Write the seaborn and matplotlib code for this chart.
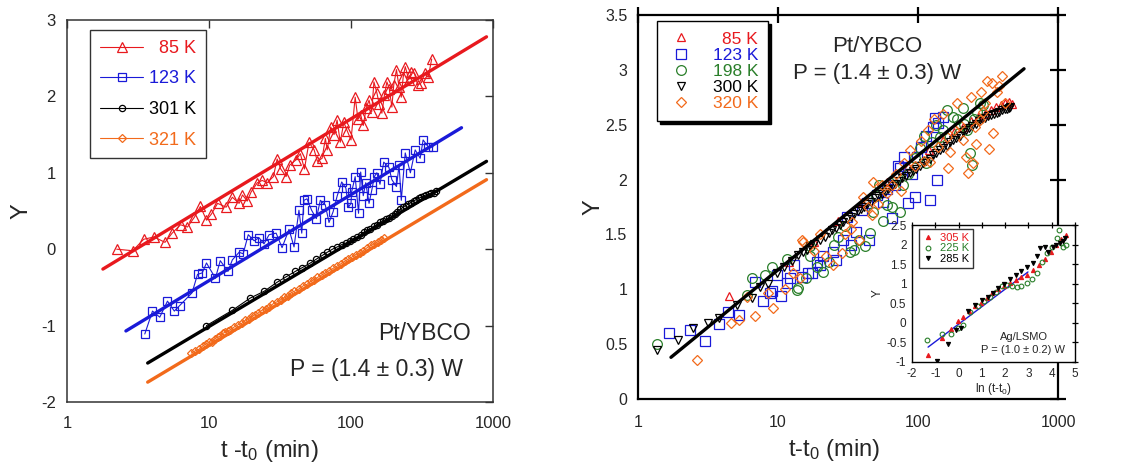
import matplotlib
matplotlib.use("Agg")
import matplotlib.pyplot as plt
import seaborn as sns

# ---------------- left panel: Pt/YBCO, Y vs t - t0 ----------------
red_t = [2.24, 2.9, 3.47, 4.1, 4.9, 5.5, 6.3, 7.05, 7.9, 8.7, 9.6, 10.4, 11.5, 13.2, 14.6,
         16.3, 17.2, 18.6, 19.8, 21.9, 23.7, 25.7, 28.4, 30.2, 32, 34.9, 37, 41, 44, 47,
         50.6, 55, 58, 62.6, 66, 68, 72, 76, 79.8, 84, 89, 94, 100, 107, 112, 117, 122,
         128, 134, 140, 145, 152, 158, 165, 172, 179, 186, 194, 200, 209, 218, 226, 233,
         241, 255, 266, 280, 295, 313, 330, 350, 370]
red_y = [0.00, -0.02, 0.13, 0.16, 0.09, 0.21, 0.32, 0.29, 0.42, 0.56, 0.38, 0.46, 0.60, 0.55, 0.68,
         0.60, 0.71, 0.63, 0.75, 0.87, 0.90, 0.87, 0.95, 1.18, 1.05, 0.95, 1.10, 1.17, 1.25, 1.05,
         1.40, 1.30, 1.15, 1.19, 1.45, 1.30, 1.60, 1.50, 1.69, 1.40, 1.66, 1.55, 1.43, 1.99, 1.70, 1.76, 1.62,
         1.85, 1.95, 1.80, 2.19, 2.05, 1.90, 1.78, 2.02, 2.19, 2.10, 1.86, 2.15, 2.35, 2.12, 1.99, 2.25,
         2.39, 2.22, 2.32, 2.30, 2.15, 2.18, 2.30, 2.25, 2.49]

blue_t = [3.53, 4.0, 4.5, 5.1, 5.7, 6.2, 7.6, 8.3, 8.96, 9.6, 11.1, 12.0, 13.6, 14.6, 16.3,
          17.4, 18.9, 20.8, 22.5, 24.4, 26.5, 29.7, 32.7, 36.6, 39.7, 43, 45, 46.6, 49, 52.8,
          57, 60.8, 65.9, 70, 74.8, 80, 86, 92, 96, 100, 101, 107, 113, 117, 122, 127, 134,
          140, 146, 152, 160, 170, 185, 194, 209, 218, 226, 241, 262, 283, 307, 322, 350, 378]
blue_y = [-1.11, -0.81, -0.89, -0.68, -0.81, -0.74, -0.57, -0.33, -0.31, -0.18, -0.38, -0.15, -0.29, -0.14, -0.04,
          -0.06, 0.19, 0.11, 0.15, 0.07, 0.19, 0.21, 0.02, 0.26, 0.03, 0.51, 0.21, 0.64, 0.66, 0.51,
          0.40, 0.64, 0.58, 0.35, 0.49, 0.70, 0.88, 0.80, 0.55, 0.60, 0.75, 0.95, 0.47, 1.01, 0.70, 0.87, 0.60,
          0.77, 0.95, 1.00, 0.85, 1.14, 1.07, 0.91, 0.82, 1.10, 0.64, 1.26, 1.00, 1.30, 1.19, 1.43, 1.34, 1.34]

black_t = [9.6, 14.6, 19.5, 24.5, 30.3, 35, 40.6, 45.5, 51.8, 57, 63, 68, 74, 80, 86, 92, 98,
           104, 110, 117, 123, 130, 137, 145, 152, 160, 168, 176, 185, 194, 203, 212, 222, 232,
           242, 253, 264, 276, 288, 300, 313, 326, 340, 354, 368, 382, 395]
black_y = [-1.00, -0.80, -0.64, -0.55, -0.43, -0.36, -0.29, -0.24, -0.18, -0.13, -0.08, -0.04, 0.00, 0.03,
           0.06, 0.08, 0.11, 0.14, 0.16, 0.19, 0.22, 0.25, 0.27, 0.30, 0.32, 0.35, 0.37, 0.39, 0.41, 0.43,
           0.46, 0.49, 0.52, 0.55, 0.57, 0.59, 0.61, 0.63, 0.65, 0.67, 0.68, 0.70, 0.71, 0.72, 0.73, 0.74, 0.76]

orange_t = [7.5, 8.0, 8.5, 9.0, 9.5, 10, 10.5, 11, 11.5, 12, 12.5, 13, 13.5, 14, 15, 16, 17, 18, 19,
            20, 21, 22, 23.5, 25, 26.5, 28, 30, 32, 34, 36, 38, 40, 43, 46, 49, 52, 55, 58, 62, 66,
            70, 75, 80, 85, 90, 96, 102, 108, 115, 122, 130, 138, 146, 155, 163, 170]
orange_y = [-1.36, -1.33, -1.31, -1.27, -1.24, -1.22, -1.21, -1.17, -1.15, -1.14, -1.10, -1.09, -1.07, -1.06,
            -1.02, -0.99, -0.97, -0.93, -0.91, -0.88, -0.86, -0.84, -0.80, -0.78, -0.76, -0.72, -0.69, -0.66,
            -0.63, -0.61, -0.57, -0.55, -0.52, -0.48, -0.46, -0.42, -0.40, -0.37, -0.34, -0.31, -0.28, -0.25,
            -0.22, -0.19, -0.16, -0.13, -0.10, -0.07, -0.05, -0.02, 0.02, 0.05, 0.07, 0.10, 0.12, 0.15]

# straight fits (end points)
fit_left = {
    "85 K": ([1.79, 900], [-0.26, 2.78]),
    "123 K": ([2.6, 600], [-1.07, 1.59]),
    "301 K": ([3.7, 900], [-1.49, 1.15]),
    "321 K": ([3.7, 900], [-1.74, 0.91]),
}

# ---------------- right panel: collapsed data ----------------
r85_t = [4.5, 12, 18, 27, 40, 60, 85, 120, 150, 180, 210, 240, 270, 300, 330, 360, 390, 420, 450, 470]
r85_y = [0.94, 1.25, 1.43, 1.62, 1.80, 1.98, 2.12, 2.27, 2.36, 2.43, 2.48, 2.53, 2.57, 2.60, 2.63,
         2.66, 2.68, 2.70, 2.71, 2.69]

r123_t = [1.67, 2.35, 3.0, 3.8, 4.4, 5.3, 6.9, 7.8, 8.8, 9.1, 9.9, 10.5, 11.6, 12.2, 13.0, 14.8, 16.3,
          17.5, 19.0, 19.9, 21, 24.7, 26, 29, 31, 33, 36, 40, 43, 45, 50.7, 56, 60, 65, 68, 72, 74,
          80, 85, 90, 95, 98, 105, 115, 122, 127, 133, 137, 140, 150]
r123_y = [0.60, 0.63, 0.53, 0.68, 0.79, 0.77, 1.07, 0.89, 0.97, 0.98, 1.13, 0.94, 1.06, 1.10, 1.22, 1.11,
          1.15, 1.15, 1.25, 1.22, 1.30, 1.34, 1.27, 1.45, 1.66, 1.40, 1.52, 1.72, 1.79, 1.45, 1.86, 1.80,
          1.91, 1.65, 1.95, 2.12, 2.11, 2.21, 1.79, 2.05, 1.84, 2.21, 2.30, 2.40, 1.81, 2.48, 2.56, 2.00,
          2.52, 2.57]

r198_t = [1.37, 6.0, 6.5, 8.1, 9.0, 11.6, 13.6, 13.9, 15.8, 16.9, 17, 19, 21, 23, 25, 27, 30, 32.6,
          35, 38, 41.7, 45.5, 48, 50, 53, 56, 60, 65, 71, 74, 78, 85, 95, 103, 110, 115, 126, 135,
          143, 150, 161, 178, 190, 195, 210, 212, 225, 235, 242, 250, 265, 275, 290]
r198_y = [0.50, 0.95, 1.10, 1.13, 1.20, 1.28, 0.99, 1.01, 1.10, 1.39, 1.30, 1.20, 1.16, 1.25, 1.40, 1.48,
          1.58, 1.34, 1.36, 1.45, 1.39, 1.51, 1.70, 1.85, 1.95, 1.62, 1.77, 1.75, 2.02, 1.70, 1.95, 2.05,
          2.20, 2.29, 2.40, 2.15, 2.34, 2.50, 2.39, 2.45, 2.63, 2.57, 2.55, 2.42, 2.65, 2.51, 2.45, 2.24,
          2.13, 2.55, 2.62, 2.70, 2.68]

r300_t = [1.37, 1.93, 2.47, 3.16, 3.8, 5.1, 6.5, 7.4, 8.5, 9.8, 11, 12.5, 14, 15, 16, 17, 18, 20, 21.5,
          23, 24.5, 26, 27.5, 29, 31, 33, 35, 37, 39, 41, 43.5, 46, 49, 52, 55, 58, 61, 65, 69, 73, 77,
          82, 87, 92, 97, 103, 109, 115, 121, 128, 135, 143, 151, 160, 169, 178, 188, 198, 209, 220,
          232, 245, 258, 272, 286, 300, 315, 330, 347, 365, 382, 400, 415, 430, 445, 455]
r300_y = [0.45, 0.54, 0.65, 0.69, 0.74, 0.86, 0.92, 1.02, 1.05, 1.15, 1.20, 1.26, 1.31, 1.34, 1.36, 1.39,
          1.41, 1.45, 1.48, 1.51, 1.54, 1.56, 1.59, 1.61, 1.64, 1.66, 1.69, 1.71, 1.73, 1.75, 1.78, 1.80,
          1.83, 1.85, 1.87, 1.89, 1.91, 1.94, 1.96, 1.99, 2.01, 2.03, 2.06, 2.08, 2.10, 2.12, 2.15, 2.17,
          2.19, 2.22, 2.24, 2.27, 2.29, 2.31, 2.34, 2.36, 2.38, 2.40, 2.43, 2.45, 2.47, 2.49, 2.51, 2.53,
          2.55, 2.56, 2.58, 2.59, 2.60, 2.61, 2.62, 2.63, 2.64, 2.64, 2.65, 2.66]

r320_t = [2.64, 4.6, 5.3, 6.0, 6.8, 8.5, 9.2, 11.2, 12.8, 14.3, 14.8, 15.1, 18, 20, 22, 24.7, 28.6, 30,
          33, 34, 38, 40.6, 44, 47, 47.6, 52, 55, 60, 65, 70, 75, 80, 88, 95, 105, 110, 118, 122, 130,
          140, 150, 161, 164, 170, 180, 190, 200, 210, 222, 228, 240, 248, 255, 260, 277, 282, 290, 300,
          310, 320, 338, 343, 365, 380, 399, 420]
r320_y = [0.36, 0.69, 0.72, 0.93, 0.76, 0.97, 0.83, 1.00, 1.15, 1.10, 1.45, 1.43, 1.35, 1.50, 1.30, 1.22,
          1.33, 1.50, 1.55, 1.61, 1.45, 1.84, 1.75, 1.68, 1.98, 1.78, 1.95, 1.88, 1.95, 2.05, 1.90, 2.15,
          2.27, 2.12, 2.35, 2.17, 2.45, 2.16, 2.55, 2.30, 2.60, 2.39, 2.11, 2.25, 2.45, 2.70, 2.50, 2.36,
          2.21, 2.06, 2.75, 2.15, 2.48, 2.32, 2.54, 2.80, 2.62, 2.70, 2.90, 2.28, 2.88, 2.42, 2.80, 2.85,
          2.94, 2.70]

fit_right_t = [1.72, 572]
fit_right_y = [0.38, 3.01]

# ---------------- inset: Ag/LSMO, Y vs ln(t - t0) ----------------
i305_x = [-1.31, -0.71, -0.33, -0.03, 0.2, 0.45, 0.7, 0.95, 1.2, 1.45, 1.7, 1.95, 2.2, 2.45, 2.7,
          2.95, 3.2, 3.45, 3.7, 3.95, 4.2, 4.4, 4.6]
i305_y = [-0.82, -0.39, -0.16, 0.06, 0.15, 0.30, 0.42, 0.52, 0.64, 0.76, 0.86, 0.95, 1.02, 1.10, 1.16,
          1.22, 1.34, 1.47, 1.63, 1.80, 2.00, 2.15, 2.25]
i225_x = [-1.36, -0.71, -0.33, -0.03, 0.2, 0.49, 0.84, 1.1, 1.35, 1.6, 1.85, 2.07, 2.3, 2.5, 2.7,
          2.94, 3.15, 3.37, 3.6, 3.8, 4.0, 4.22, 4.33, 4.4, 4.5, 4.6]
i225_y = [-0.44, -0.28, -0.28, -0.13, -0.05, 0.28, 0.43, 0.55, 0.65, 0.80, 0.95, 0.97, 0.95, 0.92, 0.95,
          1.02, 1.12, 1.28, 1.55, 1.79, 1.95, 2.17, 2.38, 2.05, 1.95, 2.00]
i285_x = [-0.93, -0.46, -0.11, 0.1, 0.4, 0.7, 1.0, 1.25, 1.48, 1.7, 1.95, 2.2, 2.45, 2.7, 2.94, 3.2,
          3.35, 3.5, 3.7, 3.85, 4.05, 4.2, 4.35, 4.5, 4.57]
i285_y = [-0.98, -0.54, -0.19, -0.12, 0.30, 0.45, 0.58, 0.66, 0.77, 0.88, 1.00, 1.12, 1.22, 1.32, 1.43,
          1.52, 1.70, 1.92, 1.95, 1.81, 1.94, 1.98, 2.04, 2.10, 2.17]
fit_inset_x = [-1.31, 2.98]
fit_inset_y = [-0.62, 1.30]

RED = "#e8191e"
BLUE = "#1a1ad8"
ORANGE = "#f26a1b"
GREEN = "#2a7f2a"

sns.set_style("white")
plt.rcParams["font.family"] = ["Liberation Sans", "DejaVu Sans"]
plt.rcParams["mathtext.fontset"] = "custom"
plt.rcParams["mathtext.rm"] = "Liberation Sans"
plt.rcParams["mathtext.it"] = "Liberation Sans:italic"

fig = plt.figure(figsize=(11.24, 4.71), dpi=100)


def right_align(leg):
    fig.canvas.draw()
    r = fig.canvas.get_renderer()
    widths = [t.get_window_extent(r).width for t in leg.get_texts()]
    w = max(widths)
    for t, wi in zip(leg.get_texts(), widths):
        t.set_position((w - wi, 0))


def log_axis(ax):
    ax.set_xscale("log")
    ax.set_xlim(1, 1000)
    ax.set_xticks([1, 10, 100, 1000])
    ax.set_xticklabels(["1", "10", "100", "1000"])
    ax.xaxis.set_minor_locator(plt.NullLocator())


# ---- left ----
ax1 = fig.add_axes([67 / 1124, 1 - 402 / 471, 426 / 1124, 382 / 471])
series = [("85 K", red_t, red_y, RED, "^", 6.5),
          ("123 K", blue_t, blue_y, BLUE, "s", 5.5),
          ("301 K", black_t, black_y, "black", "o", 4.5),
          ("321 K", orange_t, orange_y, ORANGE, "D", 3.6)]
for lab, xs, ys, c, m, ms in series:
    sns.lineplot(x=xs, y=ys, ax=ax1, color=c, linewidth=0.8, marker=m, markersize=ms,
                 markerfacecolor="none", markeredgecolor=c, markeredgewidth=0.9,
                 sort=False, estimator=None, label=lab)
    fx, fy = fit_left[lab]
    sns.lineplot(x=fx, y=fy, ax=ax1, color=c, linewidth=2.4, legend=False)

log_axis(ax1)
ax1.set_ylim(-2, 3)
ax1.set_yticks([-2, -1, 0, 1, 2, 3])
ax1.set_yticklabels(["-2", "-1", "0", "1", "2", "3"])
for s in ax1.spines.values():
    s.set_color("#333333")
    s.set_linewidth(1.1)
ax1.tick_params(which="major", direction="in", length=6, width=1, color="#333333",
                top=True, right=True, labelsize=12)
ax1.tick_params(axis="x", pad=10)
ax1.tick_params(axis="y", pad=8)
ax1.set_xlabel("t -t$_0$ (min)", fontsize=17)
ax1.set_ylabel("Y", fontsize=17)
ax1.xaxis.set_label_coords(0.476, -0.094)
ax1.yaxis.set_label_coords(-0.082, 0.5)
ax1.text(0.84, 0.18, "Pt/YBCO", transform=ax1.transAxes, fontsize=16.5, ha="center", va="center")
ax1.text(0.93, 0.085, "P = (1.4 ± 0.3) W", transform=ax1.transAxes, fontsize=16.5,
         ha="right", va="center")

leg1 = ax1.legend(loc="upper left", bbox_to_anchor=(90 / 1124, 1 - 30 / 471),
                  bbox_transform=fig.transFigure, borderaxespad=0, fontsize=13,
                  frameon=True, fancybox=False, edgecolor="black", handlelength=2.4,
                  handletextpad=0.3, labelspacing=0.75, borderpad=0.55)
leg1.get_frame().set_linewidth(1.0)
for t, c in zip(leg1.get_texts(), [RED, BLUE, "black", ORANGE]):
    t.set_color(c)

# ---- right ----
ax2 = fig.add_axes([638 / 1124, 1 - 399 / 471, 420 / 1124, 384 / 471])
rseries = [("85 K", r85_t, r85_y, RED, "^", 6.0),
           ("123 K", r123_t, r123_y, BLUE, "s", 6.5),
           ("198 K", r198_t, r198_y, GREEN, "o", 7.0),
           ("300 K", r300_t, r300_y, "black", "v", 6.0),
           ("320 K", r320_t, r320_y, ORANGE, "D", 4.8)]
for lab, xs, ys, c, m, ms in rseries:
    sns.lineplot(x=xs, y=ys, ax=ax2, linestyle="none", marker=m, markersize=ms, color=c,
                 markerfacecolor="none", markeredgecolor=c, markeredgewidth=0.9,
                 sort=False, estimator=None, label=lab)
sns.lineplot(x=fit_right_t, y=fit_right_y, ax=ax2, color="black", linewidth=2.4, legend=False)

log_axis(ax2)
ax2.set_ylim(0, 3.5)
ax2.set_yticks([0, 0.5, 1, 1.5, 2, 2.5, 3, 3.5])
ax2.set_yticklabels(["0", "0.5", "1", "1.5", "2", "2.5", "3", "3.5"])
for s in ax2.spines.values():
    s.set_color("black")
    s.set_linewidth(1.6)
ax2.tick_params(which="major", direction="inout", length=11.5, width=1.6, color="black",
                top=True, right=True, labelsize=11.5)
ax2.tick_params(axis="x", pad=5.5)
ax2.tick_params(axis="y", pad=2)
ax2.set_xlabel("t-t$_0$ (min)", fontsize=17)
ax2.set_ylabel("Y", fontsize=17)
ax2.xaxis.set_label_coords(0.467, -0.10)
ax2.yaxis.set_label_coords(-0.079, 0.5)
ax2.text((877 - 638) / 420, (399 - 46) / 384, "Pt/YBCO", transform=ax2.transAxes,
         fontsize=16, ha="center", va="center")
ax2.text((877 - 638) / 420, (399 - 73) / 384, "P = (1.4 ± 0.3) W", transform=ax2.transAxes,
         fontsize=16, ha="center", va="center")

leg2 = ax2.legend(loc="upper left", bbox_to_anchor=(657 / 1124, 1 - 21 / 471),
                  bbox_transform=fig.transFigure, borderaxespad=0, fontsize=12.5,
                  frameon=True, fancybox=False, edgecolor="black", handlelength=1.6,
                  handletextpad=1.0, labelspacing=0.05, borderpad=0.6,
                  shadow={"facecolor": "black", "edgecolor": "black", "alpha": 1})
leg2.get_frame().set_linewidth(1.0)
for t, c in zip(leg2.get_texts(), [RED, BLUE, GREEN, "black", ORANGE]):
    t.set_color(c)

# ---- inset ----
ax3 = fig.add_axes([912 / 1124, 1 - 362 / 471, 163 / 1124, 137 / 471])
sns.lineplot(x=fit_inset_x, y=fit_inset_y, ax=ax3, color="#1a1ad8", linewidth=1.0, legend=False)
iseries = [("305 K", i305_x, i305_y, RED, "^", 3.0, RED),
           ("225 K", i225_x, i225_y, GREEN, "o", 3.4, "none"),
           ("285 K", i285_x, i285_y, "black", "v", 3.0, "black")]
for lab, xs, ys, c, m, ms, fc in iseries:
    sns.lineplot(x=xs, y=ys, ax=ax3, linestyle="none", marker=m, markersize=ms, color=c,
                 markerfacecolor=fc, markeredgecolor=c, markeredgewidth=0.8,
                 sort=False, estimator=None, label=lab)
ax3.set_xlim(-2, 5)
ax3.set_ylim(-1, 2.5)
ax3.set_xticks([-2, -1, 0, 1, 2, 3, 4, 5])
ax3.set_xticklabels(["-2", "-1", "0", "1", "2", "3", "4", "5"])
ax3.set_yticks([-1, -0.5, 0, 0.5, 1, 1.5, 2, 2.5])
ax3.set_yticklabels(["-1", "-0.5", "0", "0.5", "1", "1.5", "2", "2.5"])
for s in ax3.spines.values():
    s.set_color("black")
    s.set_linewidth(1.0)
ax3.tick_params(which="major", direction="inout", length=5, width=0.9, color="black",
                top=True, right=True, labelsize=8.5, pad=1.5)
ax3.set_xlabel("ln (t-t$_0$)", fontsize=8.5, labelpad=1)
ax3.set_ylabel("Y", fontsize=8.5, labelpad=2)
ax3.text(0.69, 0.18, "Ag/LSMO", transform=ax3.transAxes, fontsize=8, ha="center", va="center")
ax3.text(0.94, 0.09, "P = (1.0 ± 0.2) W", transform=ax3.transAxes, fontsize=8, ha="right",
         va="center")
leg3 = ax3.legend(loc="upper left", bbox_to_anchor=(919 / 1124, 1 - 229 / 471),
                  bbox_transform=fig.transFigure, borderaxespad=0, fontsize=8,
                  frameon=True, fancybox=False, edgecolor="black", handlelength=1.0,
                  handletextpad=0.5, labelspacing=0.05, borderpad=0.35)
leg3.get_frame().set_linewidth(1.0)
for t, c in zip(leg3.get_texts(), [RED, GREEN, "black"]):
    t.set_color(c)

right_align(leg1)
right_align(leg2)

fig.savefig("out.png", dpi=100)
